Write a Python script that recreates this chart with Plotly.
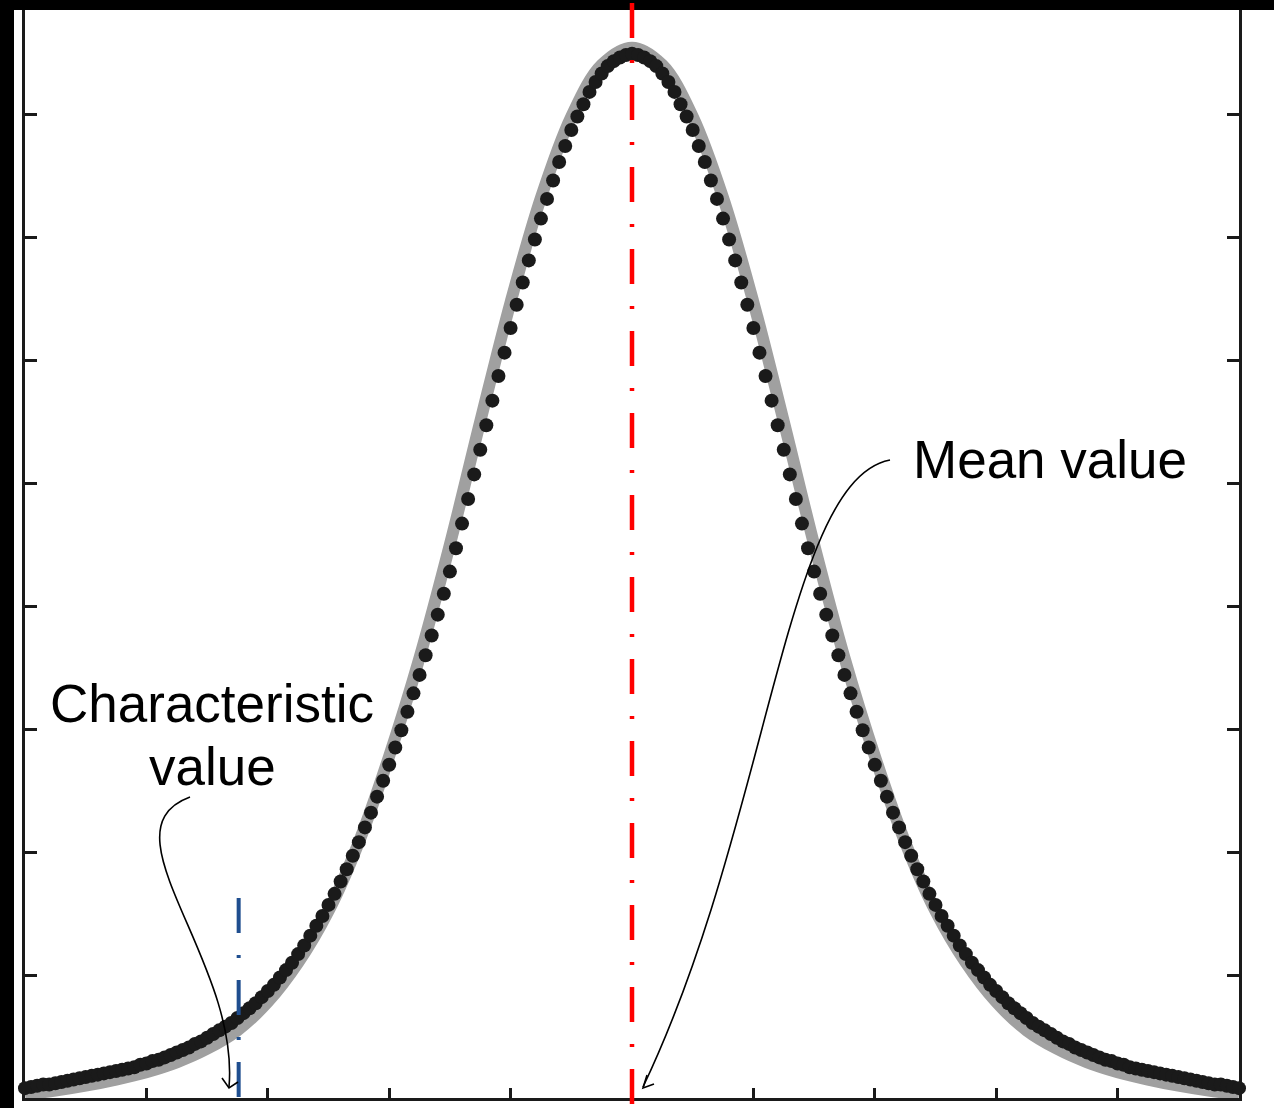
import numpy as np
import plotly.graph_objects as go

# ---------------- data ----------------
mean_value = 5.0            # red dash-dot line
characteristic_value = 1.76 # blue dash-dot line

# black dots: 201 samples from x = 0 to x = 10
dot_y = [
    0.08, 0.09, 0.10, 0.11, 0.11, 0.12, 0.13, 0.14, 0.15, 0.16,
    0.17, 0.18, 0.19, 0.20, 0.21, 0.22, 0.23, 0.24, 0.25, 0.27,
    0.28, 0.30, 0.31, 0.33, 0.35, 0.37, 0.39, 0.41, 0.44, 0.46,
    0.49, 0.52, 0.55, 0.58, 0.61, 0.65, 0.69, 0.73, 0.77, 0.82,
    0.87, 0.92, 0.98, 1.04, 1.10, 1.17, 1.24, 1.32, 1.40, 1.48,
    1.57, 1.66, 1.76, 1.86, 1.97, 2.08, 2.20, 2.32, 2.45, 2.58,
    2.71, 2.85, 2.99, 3.14, 3.29, 3.44, 3.60, 3.76, 3.93, 4.10,
    4.28, 4.47, 4.67, 4.87, 5.07, 5.27, 5.47, 5.67, 5.87, 6.06,
    6.26, 6.45, 6.63, 6.81, 6.98, 7.15, 7.31, 7.46, 7.61, 7.74,
    7.87, 7.98, 8.08, 8.18, 8.26, 8.33, 8.39, 8.43, 8.46, 8.48,
    8.49,
    8.48, 8.46, 8.43, 8.39, 8.33, 8.26, 8.18, 8.08, 7.98, 7.87,
    7.74, 7.61, 7.46, 7.31, 7.15, 6.98, 6.81, 6.63, 6.45, 6.26,
    6.06, 5.87, 5.67, 5.47, 5.27, 5.07, 4.87, 4.67, 4.47, 4.28,
    4.10, 3.93, 3.76, 3.60, 3.44, 3.29, 3.14, 2.99, 2.85, 2.71,
    2.58, 2.45, 2.32, 2.20, 2.08, 1.97, 1.86, 1.76, 1.66, 1.57,
    1.48, 1.40, 1.32, 1.24, 1.17, 1.10, 1.04, 0.98, 0.92, 0.87,
    0.82, 0.77, 0.73, 0.69, 0.65, 0.61, 0.58, 0.55, 0.52, 0.49,
    0.46, 0.44, 0.41, 0.39, 0.37, 0.35, 0.33, 0.31, 0.30, 0.28,
    0.27, 0.25, 0.24, 0.23, 0.22, 0.21, 0.20, 0.19, 0.18, 0.17,
    0.16, 0.15, 0.14, 0.13, 0.12, 0.11, 0.11, 0.10, 0.09, 0.08,
]
dot_x = np.linspace(0, 10, len(dot_y))

# grey reference curve: samples every 0.25 from x = 0 to x = 10
curve_x = [0.00, 0.25, 0.50, 0.75, 1.00, 1.25, 1.50, 1.75, 2.00, 2.25,
           2.50, 2.75, 3.00, 3.25, 3.50, 3.75, 4.00, 4.25, 4.50, 4.75,
           5.00, 5.25, 5.50, 5.75, 6.00, 6.25, 6.50, 6.75, 7.00, 7.25,
           7.50, 7.75, 8.00, 8.25, 8.50, 8.75, 9.00, 9.25, 9.50, 9.75, 10.00]
curve_y = [0.03, 0.06, 0.10, 0.15, 0.21, 0.29, 0.40, 0.55, 0.78, 1.10,
           1.52, 2.08, 2.78, 3.58, 4.50, 5.50, 6.47, 7.32, 7.98, 8.40,
           8.54, 8.40, 7.98, 7.32, 6.47, 5.50, 4.50, 3.58, 2.78, 2.08,
           1.52, 1.10, 0.78, 0.55, 0.40, 0.29, 0.21, 0.15, 0.10, 0.06, 0.03]

x_ticks = [1, 2, 3, 4, 5, 6, 7, 8, 9]
y_ticks = [1, 2, 3, 4, 5, 6, 7, 8]
x_range = [0, 10]
y_range = [0, 8.846]

# ---------------- layout geometry ----------------
W, H = 1274, 1108
PX_L, PX_R, PX_T, PX_B = 25, 1239, 10, 1098


def paper(px, py):
    return ((px - PX_L) / (PX_R - PX_L), (PX_B - py) / (PX_B - PX_T))


def path_paper(cmds):
    out = []
    for c in cmds:
        if isinstance(c, str):
            out.append(c)
        else:
            x, y = paper(*c)
            out.append(f"{x:.5f},{y:.5f}")
    return " ".join(out)


fig = go.Figure()

fig.add_trace(go.Scatter(
    x=curve_x, y=curve_y, mode="lines",
    line=dict(color="#a0a0a0", width=12, shape="spline", smoothing=1.0),
    hoverinfo="skip", showlegend=False,
))
fig.add_trace(go.Scatter(
    x=dot_x, y=dot_y, mode="markers",
    marker=dict(color="#1a1a1a", size=14, line=dict(width=0)),
    cliponaxis=False, showlegend=False,
))

shapes = []
# black strips along the top and left edge of the picture
lx0, _ = paper(0, 0)
lx1, _ = paper(14, 0)
_, by0 = paper(0, H)
_, by1 = paper(0, 0)
rx1, _ = paper(W, 0)
_, ty0 = paper(0, PX_T)
shapes.append(dict(type="rect", xref="paper", yref="paper", x0=lx0, x1=lx1,
                   y0=by0, y1=by1, fillcolor="black", line=dict(width=0), layer="above"))
shapes.append(dict(type="rect", xref="paper", yref="paper", x0=lx0, x1=rx1,
                   y0=ty0, y1=by1, fillcolor="black", line=dict(width=0), layer="above"))

# red dash-dot line (mean value)
_, ry0 = paper(0, 3)
_, ry1 = paper(0, 1105)
shapes.append(dict(type="line", xref="x", yref="paper", x0=mean_value, x1=mean_value,
                   y0=ry0, y1=ry1, layer="above",
                   line=dict(color="#ff0000", width=4.5, dash="35px,22px,3px,22px")))
# blue dash-dot line (characteristic value)
shapes.append(dict(type="line", xref="x", yref="y", x0=characteristic_value,
                   x1=characteristic_value, y0=1.626, y1=0, layer="above",
                   line=dict(color="#1f4e8f", width=4, dash="35px,22px,3px,22px")))

# curved arrows
mean_arrow = path_paper(["M", (890, 460), "C", (785, 480), (770, 820), (643, 1087)])
mean_head = path_paper(["M", (654, 1084), "L", (643, 1088), "L", (647, 1075)])
char_arrow = path_paper(["M", (190, 797), "C", (100, 830), (240, 960), (229, 1087)])
char_head = path_paper(["M", (222, 1078), "L", (229, 1088), "L", (238, 1082)])
for p in (mean_arrow, mean_head, char_arrow, char_head):
    shapes.append(dict(type="path", xref="paper", yref="paper", path=p,
                       line=dict(color="black", width=1.6), layer="above"))

annotations = []
for text, cx, cy in (("Mean value", 1050, 459), ("Characteristic", 212, 703),
                     ("value", 212, 766)):
    ax, ay = paper(cx, cy)
    annotations.append(dict(text=text, xref="paper", yref="paper", x=ax, y=ay,
                            xanchor="center", yanchor="middle", showarrow=False,
                            font=dict(family="Liberation Sans, Arial", size=53,
                                      color="black")))

fig.update_layout(
    width=W, height=H, autosize=False,
    margin=dict(l=PX_L, r=W - PX_R, t=PX_T, b=H - PX_B, pad=0),
    paper_bgcolor="white", plot_bgcolor="white",
    shapes=shapes, annotations=annotations, showlegend=False,
)
fig.update_xaxes(range=x_range, showgrid=False, zeroline=False, showline=True,
                 linecolor="#1a1a1a", linewidth=3, ticks="inside", tickvals=x_ticks,
                 ticklen=10, tickwidth=2.5, tickcolor="#1a1a1a",
                 showticklabels=False, mirror=False)
fig.update_yaxes(range=y_range, showgrid=False, zeroline=False, showline=True,
                 linecolor="#1a1a1a", linewidth=3, ticks="inside", tickvals=y_ticks,
                 ticklen=12, tickwidth=3, tickcolor="#1a1a1a",
                 showticklabels=False, mirror="ticks")

fig.write_html(
    "out.html",
    config={"displayModeBar": False},
    post_script="document.body.style.margin='0';document.body.style.overflow='hidden';",
)
